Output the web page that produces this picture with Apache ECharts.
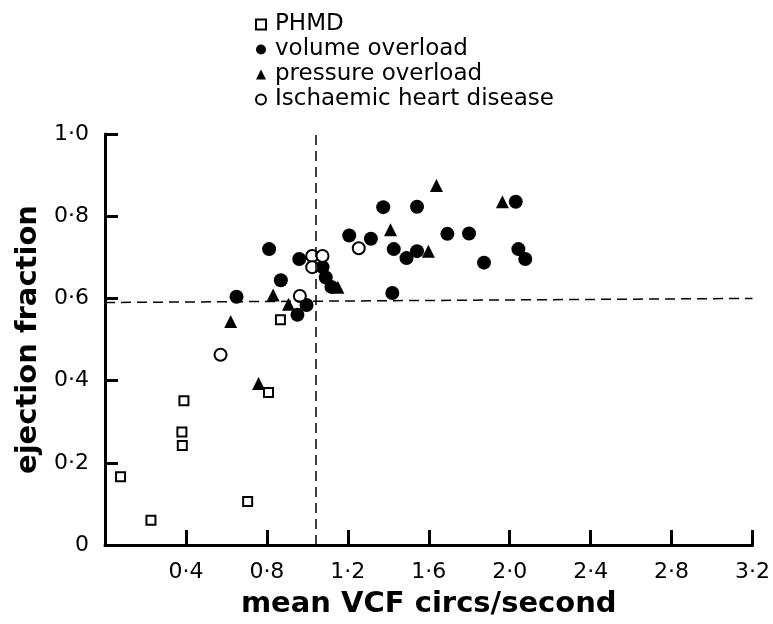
<!DOCTYPE html>
<html>
<head>
<meta charset="utf-8">
<script src="https://cdn.jsdelivr.net/npm/echarts@6/dist/echarts.min.js"></script>
<style>
  html, body { margin: 0; padding: 0; background: #fff; }
  #chart { width: 773px; height: 624px; }
</style>
</head>
<body>
<div id="chart"></div>
<script>
// [mean VCF, ejection fraction]
var phmd = [
  [0.077, 0.166], [0.227, 0.060], [0.380, 0.275], [0.382, 0.242],
  [0.390, 0.351], [0.705, 0.106], [0.808, 0.371], [0.867, 0.548]
]
var volumeOverload = [
  [0.650, 0.604], [0.811, 0.720], [0.869, 0.644], [0.951, 0.560],
  [0.960, 0.696], [0.996, 0.584], [1.075, 0.676], [1.091, 0.651],
  [1.119, 0.628], [1.207, 0.753], [1.314, 0.745], [1.375, 0.822],
  [1.420, 0.613], [1.427, 0.720], [1.490, 0.698], [1.542, 0.823],
  [1.542, 0.715], [1.692, 0.757], [1.799, 0.758], [1.873, 0.687],
  [2.030, 0.835], [2.043, 0.720], [2.077, 0.696]
]
var pressureOverload = [
  [0.621, 0.544], [0.759, 0.393], [0.831, 0.608], [0.907, 0.586],
  [1.151, 0.627], [1.411, 0.767], [1.598, 0.715], [1.638, 0.875],
  [1.964, 0.835]
]
var ischaemic = [
  [0.571, 0.463], [0.963, 0.606], [1.024, 0.703], [1.075, 0.703],
  [1.024, 0.676], [1.254, 0.722]
]
var xTicks = [0.4, 0.8, 1.2, 1.6, 2.0, 2.4, 2.8, 3.2]
var yTicks = [0, 0.2, 0.4, 0.6, 0.8, 1.0]
var cutX = 1.04
var cutY = [0.59, 0.60]

var dot = function (v) {
  return v === 0 ? '0' : v.toFixed(1).replace('.', '·')
}

var chart = echarts.init(document.getElementById('chart'))
chart.setOption({
  animation: false,
  backgroundColor: '#fff',
  textStyle: { fontFamily: 'DejaVu Sans', color: '#000' },
  legend: {
    orient: 'vertical',
    left: 250,
    top: 8,
    itemWidth: 10,
    itemHeight: 10,
    itemGap: 2,
    textStyle: { fontSize: 23, color: '#000', lineHeight: 23, padding: [0, 0, 0, 4] },
    data: ['PHMD', 'volume overload', 'pressure overload', 'Ischaemic heart disease']
  },
  grid: { left: 105, right: 20, top: 134, bottom: 75 },
  xAxis: {
    type: 'value',
    min: 0,
    max: 3.2,
    interval: 0.4,
    name: 'mean VCF circs/second',
    nameLocation: 'middle',
    nameGap: 45,
    nameTextStyle: { fontSize: 29, fontWeight: 'bold', color: '#000' },
    axisLine: { lineStyle: { color: '#000', width: 3 } },
    axisTick: { inside: true, length: 15, lineStyle: { color: '#000', width: 3 } },
    axisLabel: {
      fontSize: 22, color: '#000', margin: 16,
      formatter: function (v) {
        return xTicks.indexOf(Math.round(v * 10) / 10) >= 0 ? dot(v) : ''
      }
    },
    splitLine: { show: false }
  },
  yAxis: {
    type: 'value',
    min: 0,
    max: 1.0,
    interval: 0.2,
    name: 'ejection fraction',
    nameLocation: 'middle',
    nameGap: 60,
    nameTextStyle: { fontSize: 29, fontWeight: 'bold', color: '#000' },
    axisLine: { lineStyle: { color: '#000', width: 3 } },
    axisTick: { inside: true, length: 13, lineStyle: { color: '#000', width: 3 } },
    axisLabel: {
      fontSize: 22, color: '#000', margin: 16,
      formatter: function (v) {
        return yTicks.indexOf(Math.round(v * 10) / 10) >= 0 ? dot(v) : ''
      }
    },
    splitLine: { show: false }
  },
  series: [
    {
      name: 'PHMD',
      type: 'scatter',
      symbol: 'rect',
      symbolSize: 9,
      itemStyle: { color: '#fff', borderColor: '#000', borderWidth: 2, opacity: 1 },
      data: phmd,
      markLine: {
        silent: true,
        symbol: 'none',
        label: { show: false },
        lineStyle: { color: '#000', type: [10, 6], width: 1.5 },
        data: [
          [{ coord: [cutX, 0] }, { coord: [cutX, 1.0] }],
          [{ coord: [0, cutY[0]] }, { coord: [3.2, cutY[1]] }]
        ]
      }
    },
    {
      name: 'volume overload',
      type: 'scatter',
      symbol: 'circle',
      symbolSize: 14,
      itemStyle: { color: '#000', opacity: 1 },
      data: volumeOverload
    },
    {
      name: 'pressure overload',
      type: 'scatter',
      symbol: 'triangle',
      symbolSize: 13,
      itemStyle: { color: '#000', opacity: 1 },
      data: pressureOverload
    },
    {
      name: 'Ischaemic heart disease',
      type: 'scatter',
      symbol: 'circle',
      symbolSize: 12,
      itemStyle: { color: '#fff', borderColor: '#000', borderWidth: 2, opacity: 1 },
      data: ischaemic
    }
  ]
})
</script>
</body>
</html>
